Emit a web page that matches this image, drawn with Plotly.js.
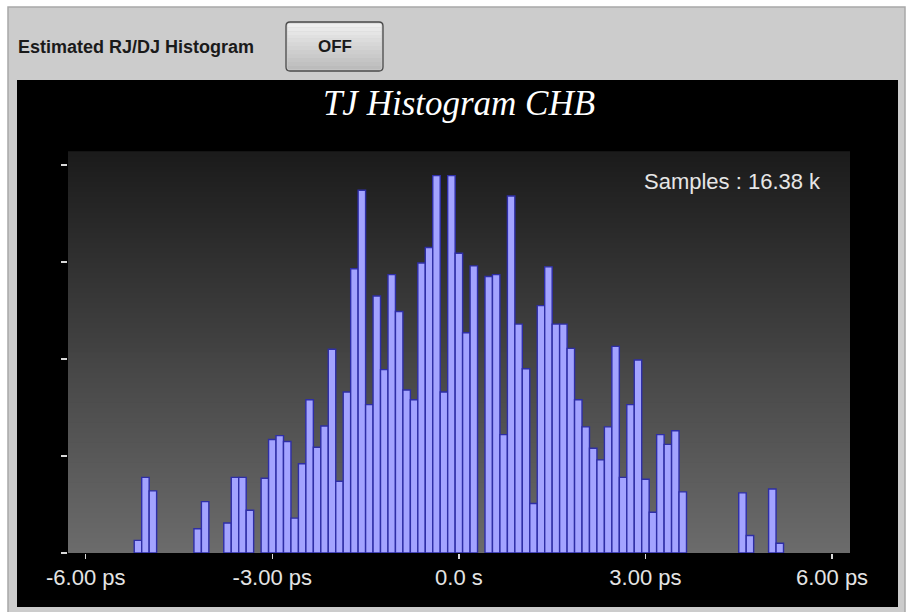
<!DOCTYPE html>
<html>
<head>
<meta charset="utf-8">
<script src="https://cdn.plot.ly/plotly-3.0.1.min.js"></script>
<style>html,body{margin:0;padding:0;background:#fff;}#chart{width:907px;height:612px;}</style>
</head>
<body>
<div id="chart"></div>
<script>
// ---- data ----
const binStartCenter = -5.16;   // ps, centre of first bin
const binWidth = 0.12;          // ps
const counts = [13,78,64,0,0,0,0,0,25,53,0,0,31,78,78,44,0,
  77,117,121,115,36,92,158,109,131,210,74,166,293,374,153,
  265,189,287,249,168,158,299,315,389,166,389,309,227,296,0,
  285,287,122,368,236,190,51,255,295,236,236,211,158,130,108,96,130,213,78,153,199,76,42,122,112,126,63,
  0,0,0,0,0,0,0,62,18,0,0,66,10];
const xTickVals = [-6,-3,0,3,6];
const xTickText = ['-6.00 ps','-3.00 ps','0.0 s','3.00 ps','6.00 ps'];
const yTickVals = [0,100,200,300,400];
const chartTitle = 'TJ Histogram CHB';
const headerLabel = 'Estimated RJ/DJ Histogram';
const buttonLabel = 'OFF';
const samplesText = 'Samples : 16.38 k';

// ---- layout helpers (pixel -> paper) ----
const W = 907, H = 612, L = 68, R = 850, T = 152, B = 553;
const px = x => (x - L) / (R - L);
const py = y => (B - y) / (B - T);

const shapes = [];
// outer gray frame
shapes.push({type:'rect', xref:'paper', yref:'paper', layer:'below',
  x0:px(8), x1:px(905), y0:py(7), y1:py(614), fillcolor:'#cccccc', line:{color:'#a8a8a8', width:1.5}});
// black panel
shapes.push({type:'rect', xref:'paper', yref:'paper', layer:'below',
  x0:px(17), x1:px(898), y0:py(80), y1:py(607), fillcolor:'#000000', line:{width:0}});
// button gradient strips
const bx0 = 286, bx1 = 383, by0 = 22, by1 = 71, nb = 12;
for (let i = 0; i < nb; i++) {
  const t = i / (nb - 1);
  const c = Math.round(238 - t * 50);
  shapes.push({type:'rect', xref:'paper', yref:'paper', layer:'below',
    x0:px(bx0 + 1.5), x1:px(bx1 - 1.5),
    y0:py(by0 + 1.5 + (by1 - by0 - 3) * i / nb), y1:py(by0 + 1.5 + (by1 - by0 - 3) * (i + 1) / nb),
    fillcolor:`rgb(${c},${c},${c})`, line:{width:0}});
}
// button rounded outline
(function(){
  const r = 4;
  const X = v => px(v), Y = v => py(v);
  const p = `M ${X(bx0 + r)},${Y(by0)} L ${X(bx1 - r)},${Y(by0)} Q ${X(bx1)},${Y(by0)} ${X(bx1)},${Y(by0 + r)} ` +
            `L ${X(bx1)},${Y(by1 - r)} Q ${X(bx1)},${Y(by1)} ${X(bx1 - r)},${Y(by1)} ` +
            `L ${X(bx0 + r)},${Y(by1)} Q ${X(bx0)},${Y(by1)} ${X(bx0)},${Y(by1 - r)} ` +
            `L ${X(bx0)},${Y(by0 + r)} Q ${X(bx0)},${Y(by0)} ${X(bx0 + r)},${Y(by0)} Z`;
  shapes.push({type:'path', xref:'paper', yref:'paper', layer:'below', path:p,
    fillcolor:'rgba(0,0,0,0)', line:{color:'#4a4a4a', width:1.3}});
})();
// plot-area vertical gradient
const ng = 80;
for (let i = 0; i < ng; i++) {
  const t = (i + 0.5) / ng;           // 0 = bottom, 1 = top
  const c = Math.round(108 - t * 82);
  shapes.push({type:'rect', xref:'paper', yref:'paper', layer:'below',
    x0:0, x1:1, y0:i / ng, y1:(i + 1) / ng + 0.002,
    fillcolor:`rgb(${c},${c},${c})`, line:{width:0}});
}

// empty bins are left undrawn (no outline along the baseline)
const barHeights = counts.map(v => (v === 0 ? null : v));

const trace = {
  type:'bar', x0:binStartCenter, dx:binWidth, y:barHeights, width:binWidth,
  marker:{color:'#a3a3ff', line:{color:'#2e2ea6', width:1.4}},
  hoverinfo:'x+y'
};

const layout = {
  width:W, height:H,
  margin:{l:L, r:W - R, t:T, b:H - B, pad:0},
  paper_bgcolor:'#ffffff', plot_bgcolor:'#404040',
  showlegend:false, bargap:0,
  title:{text:chartTitle, xref:'paper', x:0.5, xanchor:'center', yref:'container', y:1 - 103 / H, yanchor:'middle',
    font:{family:'Liberation Serif, Times New Roman, serif', size:35, color:'#ffffff', style:'italic'}},
  xaxis:{range:[-6.285, 6.289], tickvals:xTickVals, ticktext:xTickText, ticks:'outside', ticklen:5, tickwidth:1.5,
    tickcolor:'#d8d8d8', showgrid:false, zeroline:false, showline:false, fixedrange:true,
    tickfont:{family:'Liberation Sans, Arial, sans-serif', size:22, color:'#e4e4e4'}},
  yaxis:{range:[0, 413.4], tickvals:yTickVals, showticklabels:false, ticks:'outside', ticklen:6, tickwidth:1.5,
    tickcolor:'#d8d8d8', showgrid:false, zeroline:false, showline:false, fixedrange:true},
  shapes:shapes,
  annotations:[
    {text:headerLabel, xref:'paper', yref:'paper', x:px(16), y:py(47), xanchor:'left', yanchor:'middle', showarrow:false,
     font:{family:'Liberation Sans, Arial, sans-serif', size:18, color:'#1a1a1a', weight:'bold'}},
    {text:buttonLabel, xref:'paper', yref:'paper', x:px(334.5), y:py(46.5), xanchor:'center', yanchor:'middle', showarrow:false,
     font:{family:'Liberation Sans, Arial, sans-serif', size:17, color:'#1a1a1a', weight:'bold'}},
    {text:samplesText, xref:'paper', yref:'paper', x:px(823), y:py(181), xanchor:'right', yanchor:'middle', showarrow:false,
     font:{family:'Liberation Sans, Arial, sans-serif', size:22, color:'#e6e6e6'}}
  ]
};

Plotly.newPlot('chart', [trace], layout, {displayModeBar:false, staticPlot:true});
</script>
</body>
</html>
